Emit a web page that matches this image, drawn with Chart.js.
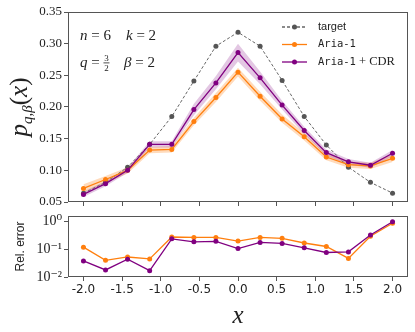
<!DOCTYPE html>
<html>
<head>
<meta charset="utf-8">
<script src="https://cdn.jsdelivr.net/npm/chart.js@4.4.1/dist/chart.umd.min.js"></script>
<style>
  html, body { margin: 0; padding: 0; background: #fff; }
  .box { position: absolute; left: 0; top: 0; width: 415px; height: 332px; }
</style>
</head>
<body>
<div class="box"><canvas id="topChart"></canvas></div>
<div class="box"><canvas id="errChart"></canvas></div>
<script>
// x grid of the 15 sample points
const xValues = [-2.0, -1.714, -1.429, -1.143, -0.857, -0.571, -0.286, 0.0, 0.286, 0.571, 0.857, 1.143, 1.429, 1.714, 2.0];
const xTicks = [-2.0, -1.5, -1.0, -0.5, 0.0, 0.5, 1.0, 1.5, 2.0];
const yTicks = [0.05, 0.10, 0.15, 0.20, 0.25, 0.30, 0.35];
const errTicks = [0.01, 0.1, 1];
const errTickLabels = ['10\u207B\u00B2', '10\u207B\u00B9', '10\u2070'];

const target = [0.064, 0.081, 0.105, 0.141, 0.185, 0.241, 0.296, 0.318, 0.296, 0.242, 0.185, 0.140, 0.105, 0.081, 0.064];
const aria   = [0.0715, 0.0855, 0.100, 0.132, 0.133, 0.177, 0.215, 0.255, 0.217, 0.181, 0.153, 0.121, 0.109, 0.107, 0.119];
const ariaLo = [0.065, 0.080, 0.095, 0.127, 0.128, 0.171, 0.208, 0.248, 0.210, 0.175, 0.147, 0.116, 0.104, 0.102, 0.113];
const ariaHi = [0.078, 0.091, 0.105, 0.137, 0.138, 0.183, 0.222, 0.262, 0.224, 0.188, 0.159, 0.126, 0.114, 0.112, 0.125];
const cdr    = [0.062, 0.079, 0.100, 0.141, 0.141, 0.196, 0.238, 0.286, 0.246, 0.203, 0.163, 0.128, 0.1135, 0.108, 0.127];
const cdrLo  = [0.058, 0.075, 0.096, 0.136, 0.136, 0.187, 0.228, 0.272, 0.236, 0.196, 0.157, 0.123, 0.109, 0.104, 0.122];
const cdrHi  = [0.066, 0.083, 0.104, 0.146, 0.146, 0.205, 0.249, 0.300, 0.256, 0.210, 0.169, 0.133, 0.118, 0.112, 0.132];

const ariaErr = [0.12, 0.040, 0.053, 0.045, 0.28, 0.27, 0.27, 0.20, 0.27, 0.25, 0.17, 0.127, 0.047, 0.30, 0.88];
const cdrErr  = [0.038, 0.018, 0.044, 0.017, 0.24, 0.187, 0.195, 0.107, 0.178, 0.164, 0.114, 0.077, 0.081, 0.33, 1.0];

const ORANGE = '#ff7f0e';
const PURPLE = '#800080';
const GRAY = '#666666';
const FRAME = '#555555';
const SERIF = '"Liberation Serif", "DejaVu Serif", serif';
const SANS = '"Liberation Sans", "DejaVu Sans", sans-serif';
const MONO = '"DejaVu Sans Mono", "Liberation Mono", monospace';

const pts = ys => ys.map((y, i) => ({ x: xValues[i], y: y }));

function lineSet(label, ys, color, order, extra) {
    return Object.assign({
        label: label,
        data: pts(ys),
        borderColor: color,
        backgroundColor: color,
        borderWidth: 1.3,
        pointRadius: 2.5,
        pointBorderWidth: 0,
        pointBackgroundColor: color,
        fill: false,
        tension: 0,
        order: order
    }, extra || {});
}

function bandSet(ys, fillColor, fillTo, order) {
    return {
        data: pts(ys),
        borderWidth: 0,
        borderColor: 'transparent',
        pointRadius: 0,
        backgroundColor: fillColor,
        fill: fillTo,
        tension: 0,
        order: order
    };
}

const xScaleBase = {
    type: 'linear',
    min: -2.2,
    max: 2.2,
    afterBuildTicks: s => { s.ticks = xTicks.map(v => ({ value: v })); },
    border: { display: false },
    grid: { display: true, drawOnChartArea: false, drawTicks: true, tickLength: 4, color: FRAME }
};

function drawFrame(chart) {
    const { ctx, chartArea: a } = chart;
    ctx.save();
    ctx.strokeStyle = FRAME;
    ctx.lineWidth = 1;
    ctx.strokeRect(a.left + 0.5, a.top + 0.5, a.right - a.left - 1, a.bottom - a.top - 1);
    ctx.restore();
}

// text pieces: [text, font]
function drawPieces(ctx, x, y, pieces) {
    let cx = x;
    pieces.forEach(p => {
        ctx.font = p[1];
        ctx.fillText(p[0], cx, y + (p[2] || 0));
        cx += ctx.measureText(p[0]).width;
    });
    return cx;
}

const topDecor = {
    id: 'topDecor',
    afterDraw(chart) {
        const ctx = chart.ctx;
        drawFrame(chart);
        ctx.save();
        ctx.fillStyle = '#222';
        ctx.textBaseline = 'alphabetic';

        // y axis label p_{q,beta}(x)
        ctx.save();
        ctx.translate(27, 107);
        ctx.rotate(-Math.PI / 2);
        const lab = [
            ['p', 'italic 25px ' + SERIF, 0],
            ['q,\u03B2', 'italic 15px ' + SERIF, 5],
            ['(', '25px ' + SERIF, 0],
            ['x', 'italic 25px ' + SERIF, 0],
            [')', '25px ' + SERIF, 0]
        ];
        let w = 0;
        lab.forEach(p => { ctx.font = p[1]; w += ctx.measureText(p[0]).width; });
        drawPieces(ctx, -w / 2, 0, lab);
        ctx.restore();

        // parameter annotations
        const it = 'italic 15px ' + SERIF, rm = '15px ' + SERIF;
        drawPieces(ctx, 80, 40, [['n', it], [' = 6', rm]]);
        drawPieces(ctx, 126, 40, [['k', it], [' = 2', rm]]);
        let fx = drawPieces(ctx, 80, 67, [['q', it], [' = ', rm]]);
        ctx.font = '9px ' + SERIF;
        ctx.textAlign = 'center';
        ctx.fillText('3', fx + 3, 61);
        ctx.fillText('2', fx + 3, 71);
        ctx.fillRect(fx, 62.5, 6, 0.8);
        ctx.textAlign = 'left';
        drawPieces(ctx, 124, 67, [['\u03B2', it], [' = 2', rm]]);

        // legend
        const rows = [
            { y: 27, color: GRAY, mark: '#555', dash: [3, 2], text: [['target', '11px ' + SANS]] },
            { y: 44.5, color: ORANGE, mark: ORANGE, dash: [], text: [['Aria-1', '10.5px ' + MONO]] },
            { y: 62, color: PURPLE, mark: PURPLE, dash: [], text: [['Aria-1', '10.5px ' + MONO], [' + CDR', '12.5px ' + SERIF]] }
        ];
        rows.forEach(r => {
            ctx.strokeStyle = r.color;
            ctx.lineWidth = 1.3;
            ctx.setLineDash(r.dash);
            ctx.beginPath();
            ctx.moveTo(282, r.y);
            ctx.lineTo(307, r.y);
            ctx.stroke();
            ctx.setLineDash([]);
            ctx.fillStyle = r.mark;
            ctx.beginPath();
            ctx.arc(294.5, r.y, 2.5, 0, Math.PI * 2);
            ctx.fill();
            ctx.fillStyle = '#222';
            ctx.textBaseline = 'middle';
            drawPieces(ctx, 318, r.y, r.text);
            ctx.textBaseline = 'alphabetic';
        });
        ctx.restore();
    }
};

const errDecor = {
    id: 'errDecor',
    afterDraw(chart) { drawFrame(chart); }
};

new Chart(document.getElementById('topChart'), {
    type: 'line',
    data: {
        datasets: [
            lineSet('target', target, GRAY, 3, { borderDash: [3, 2], borderWidth: 1, pointBackgroundColor: '#555', backgroundColor: '#555' }),
            lineSet('Aria-1', aria, ORANGE, 2),
            lineSet('Aria-1 + CDR', cdr, PURPLE, 1),
            bandSet(ariaLo, 'rgba(255,127,14,0.28)', false, 6),
            bandSet(ariaHi, 'rgba(255,127,14,0.28)', '-1', 6),
            bandSet(cdrLo, 'rgba(128,0,128,0.22)', false, 5),
            bandSet(cdrHi, 'rgba(128,0,128,0.22)', '-1', 5)
        ]
    },
    options: {
        responsive: true,
        maintainAspectRatio: false,
        animation: false,
        events: [],
        layout: { padding: { top: 12, right: 7, bottom: 126, left: 0 } },
        plugins: { legend: { display: false }, tooltip: { enabled: false } },
        scales: {
            x: Object.assign({}, xScaleBase, {
                ticks: { display: false },
                afterFit: s => { s.height = 4; }
            }),
            y: {
                min: 0.05,
                max: 0.35,
                afterBuildTicks: s => { s.ticks = yTicks.map(v => ({ value: v })); },
                afterFit: s => { s.width = 68; },
                border: { display: false },
                grid: { display: true, drawOnChartArea: false, drawTicks: true, tickLength: 4, color: FRAME },
                ticks: {
                    padding: 2,
                    color: '#222',
                    font: { family: SERIF, size: 13 },
                    callback: v => v.toFixed(2)
                }
            }
        }
    },
    plugins: [topDecor]
});

new Chart(document.getElementById('errChart'), {
    type: 'line',
    data: {
        datasets: [
            lineSet('Aria-1', ariaErr, ORANGE, 2),
            lineSet('Aria-1 + CDR', cdrErr, PURPLE, 1)
        ]
    },
    options: {
        responsive: true,
        maintainAspectRatio: false,
        animation: false,
        events: [],
        layout: { padding: { top: 216, right: 7, bottom: 0, left: 0 } },
        plugins: { legend: { display: false }, tooltip: { enabled: false } },
        scales: {
            x: Object.assign({}, xScaleBase, {
                afterFit: s => { s.height = 55; },
                ticks: {
                    padding: 2,
                    color: '#222',
                    font: { family: '"DejaVu Sans", sans-serif', size: 12 },
                    callback: v => v.toFixed(1)
                },
                title: {
                    display: true,
                    text: 'x',
                    color: '#222',
                    font: { family: SERIF, size: 25, style: 'italic' },
                    padding: { top: 0, bottom: 1 }
                }
            }),
            y: {
                type: 'logarithmic',
                min: 0.01,
                max: 1.61,
                afterBuildTicks: s => { s.ticks = errTicks.map(v => ({ value: v })); },
                afterFit: s => { s.width = 68; },
                border: { display: false },
                grid: { display: true, drawOnChartArea: false, drawTicks: true, tickLength: 4, color: FRAME },
                ticks: {
                    padding: 2,
                    color: '#222',
                    font: { family: SERIF, size: 14 },
                    callback: (v, i) => errTickLabels[i]
                },
                title: {
                    display: true,
                    text: 'Rel. error',
                    color: '#222',
                    font: { family: SANS, size: 12 },
                    padding: { top: 13, bottom: 0 }
                }
            }
        }
    },
    plugins: [errDecor]
});
</script>
</body>
</html>
